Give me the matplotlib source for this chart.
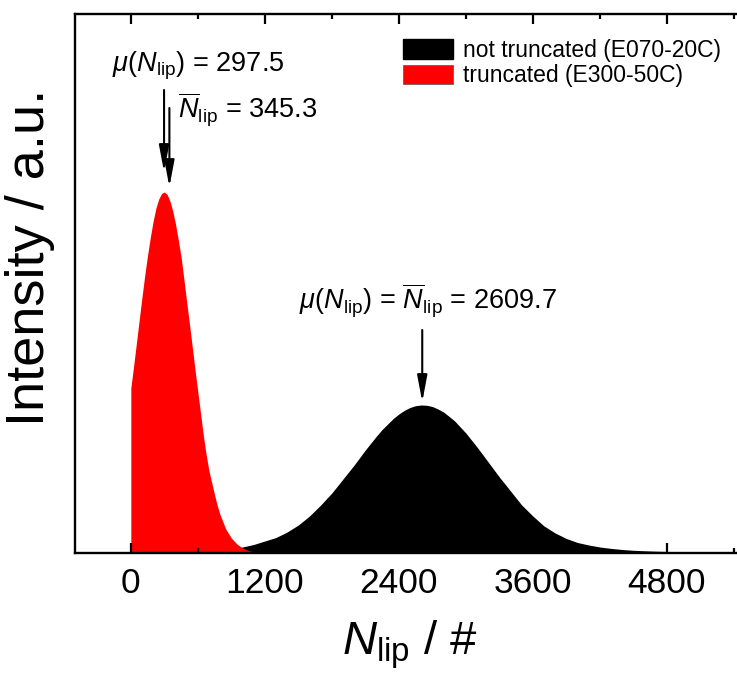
import matplotlib
matplotlib.use("Agg")
import matplotlib.pyplot as plt
from matplotlib.patches import Patch
from matplotlib.ticker import MultipleLocator

plt.rcParams['font.family'] = ['Liberation Sans', 'DejaVu Sans']
plt.rcParams['mathtext.fontset'] = 'custom'
plt.rcParams['mathtext.rm'] = 'Liberation Sans'
plt.rcParams['mathtext.it'] = 'Liberation Sans:italic'
plt.rcParams['mathtext.bf'] = 'Liberation Sans:bold'

# ---- data (intensity in a.u.) ----
red_x = [0, 0, 25, 50, 75, 100, 125, 150, 175, 200, 225, 250, 275, 300, 325,
         350, 375, 400, 425, 450, 475, 500, 525, 550, 575, 600, 625, 650, 675,
         700, 725, 750, 775, 800, 850, 900, 950, 1000, 1050, 1100, 1150, 1200, 1300]
red_y = [0, 165, 187, 210, 233, 256, 278, 298, 316, 332, 345, 354, 359.5, 361, 358.5,
         352, 342, 329, 313, 296, 274, 251, 229, 206, 183, 161, 139, 117, 98,
         82, 70, 58, 47, 38, 24, 15, 9, 5, 2.5, 1.2, 0.5, 0.2, 0]

black_x = [800, 900, 1000, 1100, 1200, 1300, 1400, 1500, 1600, 1700, 1800, 1900,
           2000, 2100, 2200, 2250, 2300, 2350, 2400, 2450, 2500, 2550, 2600, 2650,
           2700, 2750, 2800, 2850, 2900, 2950, 3000, 3100,
           3200, 3300, 3400, 3500, 3600, 3700, 3800, 3900, 4000, 4100, 4200, 4300,
           4400, 4500, 4600, 4700, 4800, 4900, 5000, 5100, 5200, 5300, 5400, 5500]
black_y = [2.5, 4, 6, 8.5, 12, 15.5, 21, 28, 37, 48, 60, 74,
           88, 103, 117, 123.5, 129, 134.5, 139, 142.7, 145.5, 147.3, 148, 147.7,
           146.5, 144, 141, 136.6, 132, 126, 120, 106,
           91, 76, 62, 48, 37, 27, 20, 14.5, 10.5, 8, 6, 4.6,
           3.5, 2.7, 2.2, 1.8, 1.5, 1.2, 1.0, 0.8, 0.7, 0.6, 0.5, 0.5]

mu_trunc = 297.5
mean_trunc = 345.3
mu_full = 2609.7

xticks = [0, 1200, 2400, 3600, 4800]
legend_labels = ['not truncated (E070-20C)', 'truncated (E300-50C)']

# ---- figure ----
W, H = 737, 677
fig = plt.figure(figsize=(W / 100, H / 100), dpi=100)
ax = fig.add_axes([75 / W, 1 - 553 / H, (745 - 75) / W, (553 - 14) / H])

ax.fill_between(black_x, black_y, 0, color='black', linewidth=0)
ax.fill_between(red_x, red_y, 0, color='#ff0000', linewidth=0)

ax.set_xlim(-500, 5500)
ax.set_ylim(0, 539)
ax.set_xticks(xticks)
ax.set_xticklabels([str(t) for t in xticks])
ax.xaxis.set_minor_locator(MultipleLocator(600))
ax.set_yticks([])
ax.tick_params(axis='x', which='both', direction='in', top=True, bottom=True,
               labelsize=25.5, pad=10, width=1.6)
ax.tick_params(axis='x', which='major', length=7.5)
ax.tick_params(axis='x', which='minor', length=3.8)
for s in ax.spines.values():
    s.set_linewidth(1.7)

# annotations
ap = dict(arrowstyle='-|>,head_length=0.8,head_width=0.15', color='black',
          lw=1.5, shrinkA=0, shrinkB=0, mutation_scale=20)
ax.annotate('', xy=(mu_trunc, 381), xytext=(mu_trunc, 463), arrowprops=ap)
ax.annotate('', xy=(mean_trunc, 366), xytext=(mean_trunc, 445), arrowprops=ap)
ax.annotate('', xy=(mu_full, 151), xytext=(mu_full, 223), arrowprops=ap)

fs_ann = 19.5
ax.text(-170, 487, r'$\mu(N_{\rm lip})$ = 297.5', fontsize=fs_ann, ha='left', va='center')
ax.text(421, 443, r'$\overline{N}_{\rm lip}$ = 345.3', fontsize=fs_ann, ha='left', va='center')
ax.text(2660, 252, r'$\mu(N_{\rm lip})$ = $\overline{N}_{\rm lip}$ = 2609.7', fontsize=fs_ann,
        ha='center', va='center')

# legend
handles = [Patch(facecolor='black', edgecolor='black'),
           Patch(facecolor='#ff0000', edgecolor='#555555', linewidth=0.5)]
fig.legend(handles, legend_labels, loc='upper left',
           bbox_to_anchor=(403 / W, 1 - 39 / H), frameon=False, fontsize=16.5,
           handlelength=2.2, handleheight=0.95, handletextpad=0.4,
           labelspacing=0.1, borderpad=0, borderaxespad=0)

# axis labels
fig.text(30 / W, 1 - 257 / H, 'Intensity / a.u.', rotation=90, fontsize=39,
         ha='center', va='center')
fig.text(410 / W, 1 - 645 / H, r'$N_{\rm lip}$ / #', fontsize=34,
         ha='center', va='center')

fig.savefig('out.png', dpi=100)
